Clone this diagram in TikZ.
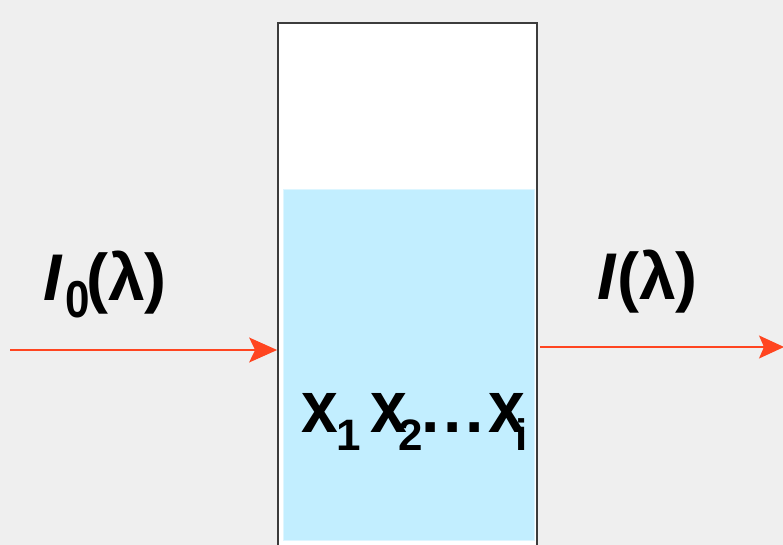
\documentclass[tikz,border=0pt]{standalone}
\usepackage{fontspec}
\setmainfont{Liberation Sans}
\usetikzlibrary{arrows.meta}
\definecolor{bgc}{HTML}{EFEFEF}
\definecolor{liq}{HTML}{C2EEFF}
\definecolor{liqedge}{HTML}{DDF6FF}
\definecolor{ray}{HTML}{FF4520}
\definecolor{wall}{HTML}{3C3C3C}
\tikzset{
  big/.style={inner sep=0pt, anchor=base west, font=\fontsize{66}{66}\selectfont\bfseries},
  bigit/.style={big, font=\fontsize{66}{66}\selectfont\bfseries\itshape},
  sub/.style={inner sep=0pt, anchor=base west, font=\fontsize{44}{44}\selectfont\bfseries},
  beam/.style={draw=ray, line width=1.2pt},
}
\newcommand{\tallx}{\scalebox{1}[1.12]{x}}
\begin{document}
\begin{tikzpicture}[x=1pt,y=-1pt]
\useasboundingbox (0,0) rectangle (783,545);
\clip (0,0) rectangle (783,545);
\fill[bgc] (0,0) rectangle (783,545);
% cuvette
\node[draw=wall, fill=white, line width=1.8pt, rectangle, minimum width=259pt, minimum height=542pt, inner sep=0pt] (tube) at (407.5,294) {};
\node[draw=liqedge, fill=liq, line width=0.8pt, rectangle, minimum width=251pt, minimum height=351pt, inner sep=0pt] (liquid) at (408.5,364.5) {};
% beams
\coordinate (lstart) at (10,350);
\coordinate (rstart) at (540,347);
\coordinate (rend) at (784,347);
\draw[beam, -{Stealth[length=28pt,width=25pt,inset=6pt]}] (lstart) -- (lstart -| tube.west);
\draw[beam, -{Stealth[length=25pt,width=23pt,inset=5pt]}] (rstart) -- (rend);
% labels
\node[bigit] (Iin) at (43,300) {I};
\node[sub] (Iinsub) at (65,317) {\scalebox{1}[1.18]{0}};
\node[big] (Iinarg) at (86,300) {(λ)};
\node[bigit] (Iout) at (597,299) {I};
\node[big] (Ioutarg) at (617,299) {(λ)};
% concentrations
\node[big] (xa) at (301,432) {\tallx};
\node[sub] (xasub) at (336,450) {1};
\node[big] (xb) at (370,432) {\tallx};
\node[sub] (xbsub) at (398,450) {2};
\node[big] (dota) at (421,432) {.};
\node[big] (dotb) at (443,432) {.};
\node[big] (dotc) at (465,432) {.};
\node[big] (xc) at (488,432) {\tallx};
\node[sub] (xcsub) at (515,450) {i};
\end{tikzpicture}
\end{document}
